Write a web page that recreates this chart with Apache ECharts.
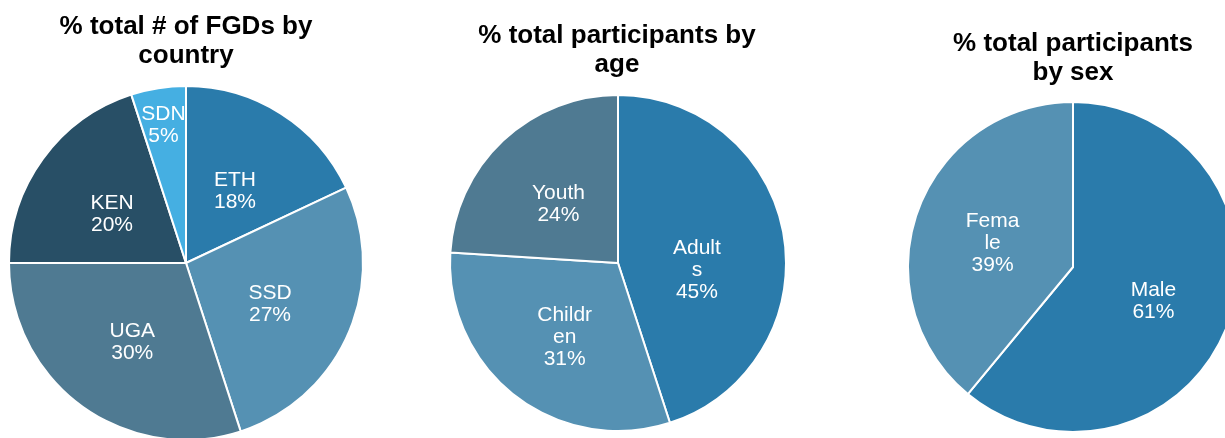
<!DOCTYPE html>
<html>
<head>
<meta charset="utf-8">
<script src="https://cdn.jsdelivr.net/npm/echarts@6/dist/echarts.min.js"></script>
<style>
  html, body { margin: 0; padding: 0; background: #fff; }
  #chart { width: 1225px; height: 438px; }
</style>
</head>
<body>
<div id="chart"></div>
<script>
const countryNames = ['ETH', 'SSD', 'UGA', 'KEN', 'SDN'];
const countryShares = [18, 27, 30, 20, 5];
const ageNames = ['Adults', 'Children', 'Youth'];
const ageShares = [45, 31, 24];
const sexNames = ['Male', 'Female'];
const sexShares = [61, 39];
const titles = [
    '% total # of FGDs by\ncountry',
    '% total participants by\nage',
    '% total participants\nby sex'
];

const countryColors = ['#2a7bab', '#5591b3', '#4f7a92', '#284f66', '#45afe2'];
const ageColors = ['#2a7bab', '#5591b3', '#4f7a92'];
const sexColors = ['#2a7bab', '#5591b3'];

const font = "'Liberation Sans', Arial, sans-serif";

// small slices get their label pushed towards the rim, like excel does
const rimLabels = ['SDN'];
// excel sits its labels a little lower than the slice middle
const labelNudge = { Adults: [-7, 21] };
const defaultNudge = [0, 5];

function toData(names, values, colors, hideNames) {
    return names.map((name, i) => ({
        name: name,
        value: values[i],
        itemStyle: { color: colors[i] },
        label: { show: !(hideNames || []).includes(name) }
    }));
}

const labelStyle = {
    show: true,
    position: 'inside',
    formatter: '{b}\n{c}%',
    color: '#fff',
    fontFamily: font,
    fontSize: 21,
    lineHeight: 22,
    width: 56,
    overflow: 'breakAll'
};

function pie(center, radius, names, data) {
    return {
        type: 'pie',
        center: center,
        radius: radius,
        startAngle: 90,
        clockwise: true,
        animation: false,
        silent: true,
        itemStyle: { borderColor: '#fff', borderWidth: 2 },
        label: labelStyle,
        labelLine: { show: false },
        labelLayout: function (params) {
            const n = labelNudge[names[params.dataIndex]] || defaultNudge;
            return { dx: n[0], dy: n[1] };
        },
        data: data
    };
}

const rimData = countryNames.map((name, i) => ({
    name: name,
    value: countryShares[i],
    itemStyle: { color: 'transparent', borderWidth: 0 },
    label: { show: rimLabels.includes(name) }
}));

const chart = echarts.init(document.getElementById('chart'));
chart.setOption({
    backgroundColor: '#fff',
    title: [
        { text: titles[0], left: 186, top: 12 },
        { text: titles[1], left: 617, top: 21 },
        { text: titles[2], left: 1073, top: 29 }
    ].map(t => ({
        text: t.text,
        left: t.left,
        top: t.top,
        textAlign: 'center',
        padding: 0,
        textStyle: {
            fontFamily: font,
            fontWeight: 'bold',
            fontSize: 26,
            lineHeight: 29,
            color: '#000'
        }
    })),
    series: [
        pie([186, 263], [0, 177], countryNames, toData(countryNames, countryShares, countryColors, rimLabels)),
        Object.assign(pie([186, 263], [106, 177], countryNames, rimData), { itemStyle: { color: 'transparent', borderWidth: 0 } }),
        pie([618, 263], [0, 168], ageNames, toData(ageNames, ageShares, ageColors)),
        pie([1073, 267], [0, 165], sexNames, toData(sexNames, sexShares, sexColors))
    ]
});
</script>
</body>
</html>
